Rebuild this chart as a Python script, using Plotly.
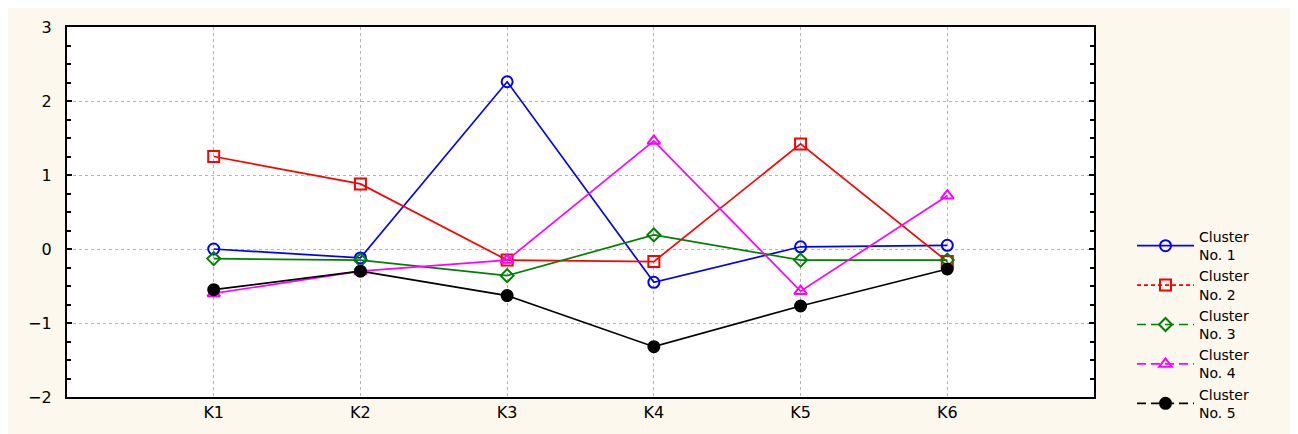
import plotly.graph_objects as go

categories = ["K1", "K2", "K3", "K4", "K5", "K6"]
cluster_names = ["Cluster<br>No. 1", "Cluster<br>No. 2", "Cluster<br>No. 3", "Cluster<br>No. 4", "Cluster<br>No. 5"]
cluster1 = [0.00, -0.12, 2.26, -0.45, 0.03, 0.05]
cluster2 = [1.25, 0.88, -0.15, -0.17, 1.42, -0.17]
cluster3 = [-0.13, -0.15, -0.36, 0.19, -0.15, -0.15]
cluster4 = [-0.60, -0.30, -0.15, 1.46, -0.57, 0.72]
cluster5 = [-0.55, -0.30, -0.63, -1.32, -0.77, -0.27]
series = [cluster1, cluster2, cluster3, cluster4, cluster5]

colors = ["#0000ff", "#ff0000", "#008000", "#ff00ff", "#000000"]
symbols = ["circle-open", "square-open", "diamond-open", "triangle-up-open", "circle"]
sizes = [11, 11, 10, 11, 11]
legend_dash = ["solid", "4px,3px", "9px,5px", "9px,5px", "9px,5px"]

xpos = list(range(1, len(categories) + 1))

fig = go.Figure()
for i, vals in enumerate(series):
    fig.add_trace(go.Scatter(
        x=xpos, y=vals, mode="lines+markers",
        line=dict(color=colors[i], width=1.7),
        marker=dict(symbol=symbols[i], size=sizes[i], color=colors[i],
                    line=dict(color=colors[i], width=2)),
        showlegend=False, hoverinfo="skip"))
for i in range(len(series)):
    fig.add_trace(go.Scatter(
        x=[None], y=[None], mode="lines+markers", name=cluster_names[i],
        line=dict(color=colors[i], width=1.7, dash=legend_dash[i]),
        marker=dict(symbol=symbols[i], size=sizes[i], color=colors[i],
                    line=dict(color=colors[i], width=2))))

# page has an 8px body margin; figure coordinates = page coordinates - 8
W, H = 1290, 426
L, R, T, B = 59, 1086, 19, 389
pw, ph = R - L, B - T
bg = "#fcf8ee"

fig.update_layout(
    width=W, height=H,
    margin=dict(l=L, r=W - R, t=T, b=H - B, autoexpand=False),
    paper_bgcolor=bg, plot_bgcolor="white",
    font=dict(family="DejaVu Sans, Liberation Sans, Arial, sans-serif", size=16, color="black"),
    legend=dict(x=(1124 - L) / pw, xanchor="left", y=(B - 213) / ph, yanchor="top",
                bgcolor="rgba(0,0,0,0)", font=dict(size=14),
                tracegroupgap=0, itemwidth=57),
    xaxis=dict(range=[0, 7], tickmode="array", tickvals=xpos, ticktext=categories,
               showline=True, linecolor="black", linewidth=2, mirror=True,
               showgrid=True, gridcolor="#b4b4b4", griddash="dot", gridwidth=1,
               ticks="", zeroline=False, fixedrange=True),
    yaxis=dict(range=[-2, 3], tickmode="linear", tick0=-2, dtick=1,
               showline=True, linecolor="black", linewidth=2, mirror="ticks",
               showgrid=True, gridcolor="#b4b4b4", griddash="dot", gridwidth=1,
               ticks="inside", ticklen=5, tickcolor="black", tickwidth=1.5,
               minor=dict(dtick=0.25, ticks="inside", ticklen=4, tickcolor="black", showgrid=False),
               zeroline=False, ticksuffix="  ", fixedrange=True),
)

fig.write_html("out.html")
